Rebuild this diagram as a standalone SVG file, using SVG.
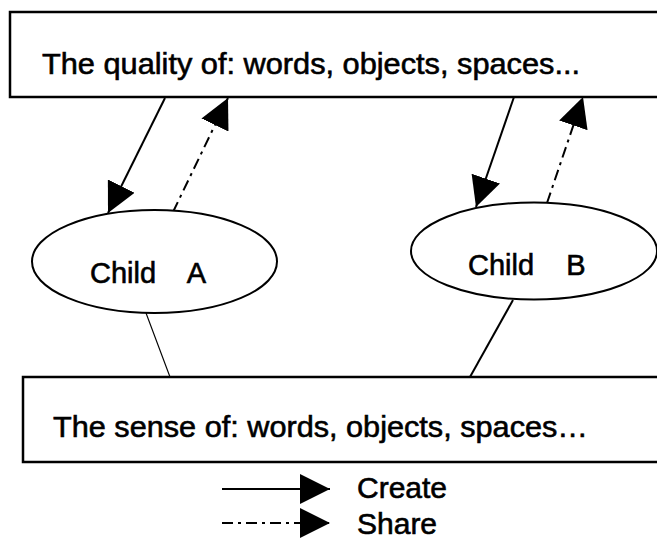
<svg xmlns="http://www.w3.org/2000/svg" width="657" height="539" viewBox="0 0 657 539">
<style>
.box{fill:#fff;stroke:#000;stroke-width:2.5}
.ell{fill:#fff;stroke:#000;stroke-width:2}
.t{font-family:"Liberation Sans",Arial,sans-serif;fill:#000;stroke:#000;stroke-width:0.6}
.c{stroke:#000;stroke-width:2;fill:none}
.d{stroke-dasharray:11 5 3 5}
</style>
<defs>
<marker id="ah" markerUnits="userSpaceOnUse" markerWidth="30" markerHeight="30" refX="28" refY="14" orient="auto" viewBox="0 0 28 28">
<path d="M0,0 L28,14 L0,28 z" fill="#000"/>
</marker>
</defs>
<rect width="657" height="539" fill="#fff"/>
<g id="top">
<rect class="box" x="10" y="12" width="670" height="85"/>
<text class="t" x="42" y="74" font-size="30" textLength="538" lengthAdjust="spacingAndGlyphs">The quality of: words, objects, spaces...</text>
</g>
<g id="bottom">
<rect class="box" x="23" y="377" width="670" height="85"/>
<text class="t" x="53" y="437" font-size="30" textLength="535" lengthAdjust="spacingAndGlyphs">The sense of: words, objects, spaces…</text>
</g>
<g id="connectors">
<line class="c" x1="165" y1="98" x2="108" y2="213" marker-end="url(#ah)"/>
<line class="c d" x1="173" y1="212" x2="228" y2="98" marker-end="url(#ah)"/>
<line class="c" x1="514" y1="97" x2="476" y2="207" marker-end="url(#ah)"/>
<line class="c d" x1="547" y1="203" x2="583" y2="97" marker-end="url(#ah)"/>
<line stroke="#000" stroke-width="1.2" x1="146" y1="313" x2="170" y2="377"/>
<line stroke="#000" stroke-width="2" x1="513" y1="300" x2="470" y2="377"/>
</g>
<g id="childA">
<ellipse class="ell" cx="154.5" cy="261.5" rx="122.5" ry="51.5"/>
<text class="t" x="90" y="283" font-size="29" xml:space="preserve" style="white-space:pre">Child    A</text>
</g>
<g id="childB">
<ellipse class="ell" cx="534" cy="251" rx="123" ry="48.5"/>
<text class="t" x="468" y="275" font-size="29" xml:space="preserve" style="white-space:pre">Child    B</text>
</g>
<g id="legend">
<line class="c" x1="222" y1="489" x2="330" y2="489" marker-end="url(#ah)"/>
<line class="c d" x1="222" y1="523" x2="330" y2="523" marker-end="url(#ah)"/>
<text class="t" x="357" y="498" font-size="30">Create</text>
<text class="t" x="357" y="534" font-size="30">Share</text>
</g>
</svg>
